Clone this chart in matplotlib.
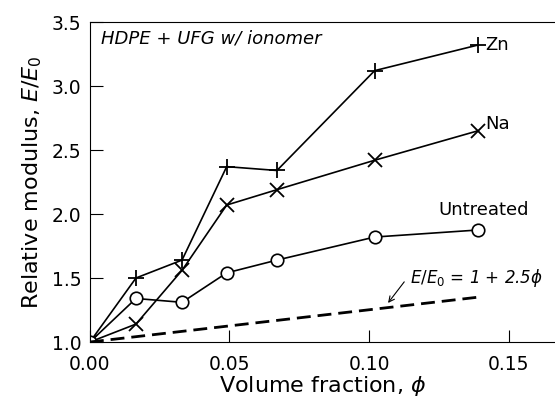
import matplotlib
matplotlib.use("Agg")
import matplotlib.pyplot as plt

# volume fraction and relative modulus
phi = [0.0, 0.0165, 0.033, 0.049, 0.067, 0.102, 0.139]
zn = [1.0, 1.50, 1.64, 2.37, 2.34, 3.12, 3.32]
na = [1.0, 1.14, 1.56, 2.07, 2.19, 2.42, 2.65]
untreated = [1.0, 1.34, 1.31, 1.54, 1.64, 1.82, 1.875]
theory_phi = [0.0, 0.139]
theory = [1.0, 1.35]

plt.rcParams['font.family'] = ['DejaVu Sans']
plt.rcParams['mathtext.fontset'] = 'dejavusans'

fig = plt.figure(figsize=(5.55, 4.0), dpi=100)
ax = fig.add_axes([0.162, 0.145, 0.84, 0.80])

ax.plot(phi, zn, color='k', lw=1.2, marker='+', ms=11, mew=1.3)
ax.plot(phi, na, color='k', lw=1.2, marker='x', ms=10, mew=1.3)
ax.plot(phi, untreated, color='k', lw=1.2, marker='o', ms=9, mfc='white', mew=1.2)
ax.plot(theory_phi, theory, color='k', lw=2, ls=(0, (5, 2.5)))

ax.text(0.1415, zn[-1], 'Zn', fontsize=13, va='center')
ax.text(0.1415, na[-1] + 0.05, 'Na', fontsize=13, va='center')
ax.text(0.141, 2.03, 'Untreated', fontsize=13, ha='center', va='center')
ax.text(0.1147, 1.50, r'$E/E_0$ = 1 + 2.5$\phi$', fontsize=12, style='italic', va='center')
ax.annotate('', xy=(0.1068, 1.305), xytext=(0.1126, 1.47),
            arrowprops=dict(arrowstyle='->', color='k', lw=0.8, shrinkA=0, shrinkB=0))
ax.text(0.004, 3.37, 'HDPE + UFG w/ ionomer', fontsize=13, style='italic', va='center')

ax.set_xlim(0, 0.167)
ax.set_ylim(1.0, 3.5)
ax.set_xticks([0.0, 0.05, 0.10, 0.15])
ax.set_xticklabels(['0.00', '0.05', '0.10', '0.15'])
ax.set_yticks([1.0, 1.5, 2.0, 2.5, 3.0, 3.5])
ax.tick_params(direction='in', length=9, width=0.8, labelsize=13.5, top=False, right=False)
ax.tick_params(axis='x', pad=9)
ax.tick_params(axis='y', pad=6)
ax.spines['right'].set_visible(False)
ax.set_xlabel(r'Volume fraction, $\phi$', fontsize=16, labelpad=0)
ax.set_ylabel(r'Relative modulus, $E/E_0$', fontsize=16, labelpad=6)

fig.savefig('out.png', dpi=100)
